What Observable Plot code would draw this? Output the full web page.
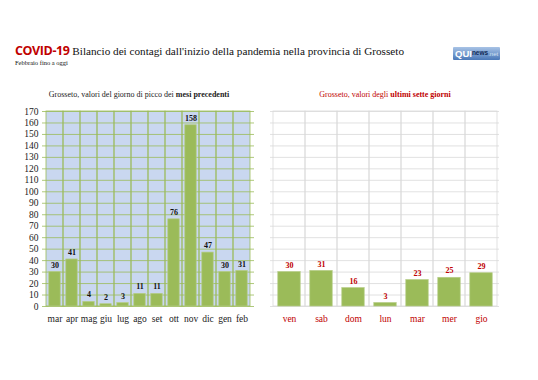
<!DOCTYPE html>
<html><head><meta charset="utf-8">
<script src="https://cdn.jsdelivr.net/npm/d3@7"></script>
<script src="https://cdn.jsdelivr.net/npm/@observablehq/plot@0.6"></script>
<style>
body{margin:0;background:#fff;}
#wrap{position:relative;width:538px;height:380px;overflow:hidden;background:#fff;}
.abs{position:absolute;}
#title{left:15px;top:42px;font-family:"Liberation Serif",serif;font-size:11.2px;color:#111;white-space:nowrap;}
#title b{font-family:"Open Sans","Liberation Sans",sans-serif;color:#c00000;font-weight:700;font-size:12.5px;letter-spacing:-0.4px;}
#sub{left:15px;top:59px;font-family:"Liberation Serif",serif;font-size:6.5px;color:#111;}
.ct{font-family:"Liberation Serif",serif;font-size:8px;white-space:nowrap;text-align:center;width:270px;}
#logo{left:453px;top:47px;width:47px;height:13px;background:linear-gradient(#a8c3e6,#4a78b8);border-radius:1px;font-family:"Liberation Sans",sans-serif;white-space:nowrap;overflow:hidden;display:flex;align-items:center;}
#logo .q{color:#fff;font-weight:700;font-size:9.5px;margin-left:2px;line-height:1;}
#logo .n{color:#102a55;font-weight:700;font-size:6.5px;line-height:1;}
#logo .t{color:#d5e2f3;font-size:6px;line-height:1;}
</style></head>
<body><div id="wrap">
<div id="title" class="abs"><b>COVID-19</b> Bilancio dei contagi dall'inizio della pandemia nella provincia di Grosseto</div>
<div id="sub" class="abs">Febbraio fino a oggi</div>
<div id="logo" class="abs"><span class="q">QUI</span><span class="n">news</span><span class="t">.net</span></div>
<div id="ctl" class="abs ct" style="left:4px;top:90px;color:#222;">Grosseto, valori del giorno di picco dei <b>mesi precedenti</b></div>
<div id="ctr" class="abs ct" style="left:250px;top:90px;color:#c00000;">Grosseto, valori degli <b>ultimi sette giorni</b></div>
<div id="left" class="abs" style="left:0;top:100px;"></div>
<div id="right" class="abs" style="left:260px;top:100px;"></div>
</div>
<script>
const months = ["mar","apr","mag","giu","lug","ago","set","ott","nov","dic","gen","feb"];
const monthValues = [30,41,4,2,3,11,11,76,158,47,30,31];
const days = ["ven","sab","dom","lun","mar","mer","gio"];
const dayValues = [30,31,16,3,23,25,29];
const yTicks = d3.range(0, 171, 10);
const yMax = 170;

const green = "#9bbb59";
const serif = "Liberation Serif, serif";

const mdata = months.map((m,i)=>({m, v: monthValues[i]}));
const ddata = days.map((d,i)=>({d, v: dayValues[i]}));

const left = Plot.plot({
  width: 270, height: 230,
  marginLeft: 42, marginRight: 16, marginTop: 11, marginBottom: 24,
  style: {fontFamily: serif, fontSize: "9.5px", color: "#222", background: "transparent"},
  x: {domain: months, padding: 0, label: null, tickSize: 0, tickPadding: 9},
  y: {domain: [0, yMax], ticks: yTicks, label: null, tickSize: 0, tickPadding: 4},
  marks: [
    Plot.barY(months, {x: d=>d, y1: 0, y2: yMax, fill: "#c9d7f0"}),
    Plot.ruleY(yTicks, {stroke: green, strokeWidth: 0.8}),
    Plot.barY(months, {x: d=>d, y1: 0, y2: yMax, fill: "none", stroke: green, strokeWidth: 0.8}),
    Plot.barY(mdata, {x: "m", y: "v", fill: green, stroke: "#b5cc86", strokeWidth: 0.7, insetLeft: 2.8, insetRight: 2.8}),
    Plot.text(mdata, {x: "m", y: "v", text: d=>String(d.v), dy: -7, fontWeight: "bold", fontSize: 8, fill: "#111"})
  ]
});
document.getElementById("left").appendChild(left);

const right = Plot.plot({
  width: 270, height: 230,
  marginLeft: 10, marginRight: 31, marginTop: 11, marginBottom: 24,
  style: {fontFamily: serif, fontSize: "9.5px", color: "#c00000", background: "transparent"},
  x: {domain: days, padding: 0, label: null, tickSize: 0, tickPadding: 9},
  y: {domain: [0, yMax], label: null, axis: null},
  marks: [
    Plot.ruleY(yTicks, {stroke: "#d9d9d9", strokeWidth: 0.8}),
    Plot.barY(days, {x: d=>d, y1: 0, y2: yMax, fill: "none", stroke: "#d9d9d9", strokeWidth: 0.8}),
    Plot.barY(ddata, {x: "d", y: "v", fill: green, stroke: "#b5cc86", strokeWidth: 0.7, insetLeft: 4.8, insetRight: 4.8}),
    Plot.text(ddata, {x: "d", y: "v", text: d=>String(d.v), dy: -7, fontWeight: "bold", fontSize: 8, fill: "#c00000"})
  ]
});
document.getElementById("right").appendChild(right);
</script>
</body></html>
